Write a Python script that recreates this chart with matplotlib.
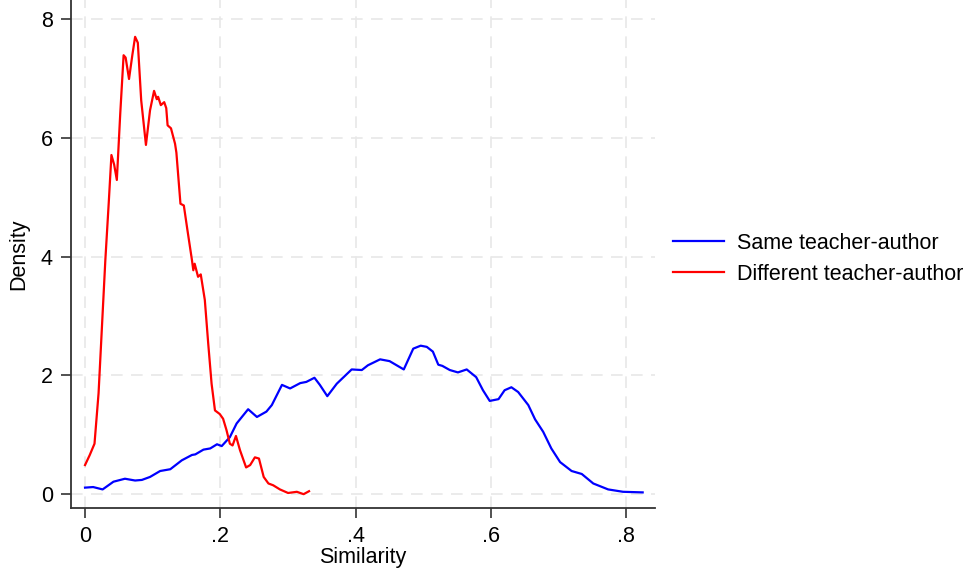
import matplotlib
matplotlib.use('Agg')
import matplotlib.pyplot as plt

plt.rcParams['font.family'] = ['Liberation Sans', 'DejaVu Sans']

# Same teacher-author (kernel density)
same_x = [0.000, 0.012, 0.026, 0.042, 0.059, 0.074, 0.084, 0.096, 0.111, 0.126, 0.143,
          0.158, 0.163, 0.175, 0.185, 0.195, 0.202, 0.214, 0.224, 0.241, 0.254, 0.268,
          0.276, 0.291, 0.303, 0.318, 0.327, 0.339, 0.347, 0.358, 0.372, 0.394, 0.409,
          0.418, 0.436, 0.450, 0.471, 0.485, 0.496, 0.505, 0.514, 0.522, 0.528, 0.539,
          0.551, 0.564, 0.578, 0.588, 0.598, 0.611, 0.620, 0.630, 0.640, 0.655, 0.665,
          0.677, 0.689, 0.702, 0.719, 0.734, 0.751, 0.773, 0.795, 0.824]
same_y = [0.11, 0.12, 0.08, 0.21, 0.26, 0.23, 0.24, 0.29, 0.39, 0.42, 0.57,
          0.66, 0.67, 0.75, 0.77, 0.84, 0.81, 0.96, 1.19, 1.43, 1.30, 1.39,
          1.50, 1.84, 1.78, 1.87, 1.89, 1.96, 1.84, 1.65, 1.86, 2.10, 2.09,
          2.17, 2.27, 2.24, 2.10, 2.45, 2.50, 2.48, 2.40, 2.18, 2.16, 2.09,
          2.05, 2.10, 1.97, 1.75, 1.57, 1.60, 1.75, 1.80, 1.72, 1.50, 1.26,
          1.05, 0.77, 0.54, 0.39, 0.34, 0.18, 0.08, 0.04, 0.03]

# Different teacher-author
diff_x = [0.000, 0.007, 0.014, 0.020, 0.025, 0.030, 0.035, 0.039, 0.043, 0.047, 0.052,
          0.057, 0.060, 0.065, 0.070, 0.074, 0.078, 0.083, 0.090, 0.096, 0.102, 0.106,
          0.108, 0.112, 0.117, 0.120, 0.122, 0.127, 0.133, 0.135, 0.141, 0.146, 0.151,
          0.158, 0.160, 0.162, 0.167, 0.171, 0.177, 0.182, 0.187, 0.192, 0.199, 0.204,
          0.209, 0.214, 0.218, 0.223, 0.229, 0.238, 0.244, 0.251, 0.257, 0.264, 0.271,
          0.278, 0.288, 0.300, 0.313, 0.323, 0.331]
diff_y = [0.49, 0.66, 0.85, 1.70, 2.82, 3.94, 4.90, 5.71, 5.55, 5.29, 6.40,
          7.39, 7.35, 6.99, 7.40, 7.70, 7.60, 6.63, 5.88, 6.46, 6.79, 6.65,
          6.69, 6.55, 6.60, 6.50, 6.21, 6.16, 5.90, 5.75, 4.89, 4.86, 4.47,
          3.94, 3.77, 3.88, 3.66, 3.70, 3.27, 2.54, 1.86, 1.41, 1.35, 1.27,
          1.08, 0.85, 0.82, 0.98, 0.74, 0.45, 0.49, 0.62, 0.60, 0.29, 0.18,
          0.15, 0.08, 0.02, 0.04, 0.00, 0.05]

x_ticks = [0, 0.2, 0.4, 0.6, 0.8]
x_labels = ['0', '.2', '.4', '.6', '.8']
y_ticks = [0, 2, 4, 6, 8]

fig = plt.figure(figsize=(9.65, 5.71), dpi=100)
ax = fig.add_axes([0.0736, 0.110, 0.605, 0.890])

ax.plot(same_x, same_y, color='#0000ff', lw=1.6, label='Same teacher-author')
ax.plot(diff_x, diff_y, color='#ff0000', lw=1.6, label='Different teacher-author')

ax.set_xlim(-0.0207, 0.842)
ax.set_ylim(-0.236, 8.32)
ax.set_xticks(x_ticks)
ax.set_xticklabels(x_labels)
ax.set_yticks(y_ticks)

# dashed light grid
ax.grid(True, color='#e8e8e8', linestyle=(0, (7, 5)), lw=1.2)
ax.set_axisbelow(True)

for s in ['top', 'right']:
    ax.spines[s].set_visible(False)
for s in ['left', 'bottom']:
    ax.spines[s].set_color('#333333')
    ax.spines[s].set_linewidth(1.3)

ax.tick_params(axis='both', labelsize=15.5, length=7, width=1.2, color='#333333', pad=6)
ax.set_xlabel('Similarity', fontsize=15.5, labelpad=0)
ax.set_ylabel('Density', fontsize=15.5, labelpad=8)

fig.legend(loc='center left', bbox_to_anchor=(0.677, 0.547), frameon=False,
           fontsize=15.5, handlelength=2.4, handletextpad=0.6, labelspacing=0.45)

plt.savefig('out.png', dpi=100)
